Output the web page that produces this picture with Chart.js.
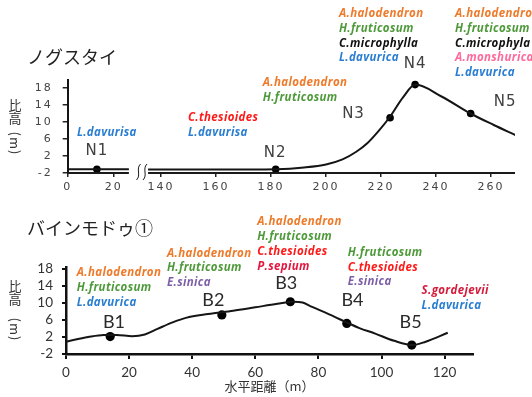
<!DOCTYPE html>
<html><head><meta charset="utf-8">
<script src="https://cdn.jsdelivr.net/npm/chart.js@4/dist/chart.umd.min.js"></script>
<style>
html,body{margin:0;padding:0;background:#fff;}
#wrap{position:relative;width:532px;height:397px;overflow:hidden;}
canvas{position:absolute;left:0;}
#top{top:0}
#bot{top:200px}
</style></head><body>
<div id="wrap"><canvas id="top" width="532" height="200"></canvas><canvas id="bot" width="532" height="197"></canvas></div>
<script>
// ---------------- data ----------------
const TOP_TITLE = 'ノグスタイ';
const BOT_TITLE = 'バインモドゥ①';
const Y_LABEL_CJK = ['比', '高'];
const Y_LABEL_UNIT = '(m)';
const X_LABEL = '水平距離（m）';
const Y_TICKS = [-2, 2, 6, 10, 14, 18];
const TOP_X_TICKS = [0, 20, 140, 160, 180, 200, 220, 240, 260];
const BOT_X_TICKS = [0, 20, 40, 60, 80, 100, 120];

const TOP_SITES = ['N1', 'N2', 'N3', 'N4', 'N5'];
const TOP_SITE_X = [12.7, 181.7, 223.3, 232.4, 252.6];
const TOP_SITE_Y = [-1.1, -1.1, 11.0, 18.8, 12.0];
const TOP_PROFILE_LEFT_X = [0, 26.6];
const TOP_PROFILE_LEFT_Y = [-1.1, -1.1];
const TOP_PROFILE_RIGHT_X = [135.3, 160, 182, 192, 200, 206, 211, 215, 219, 223, 228, 232.5, 242, 252.5, 261, 269];
const TOP_PROFILE_RIGHT_Y = [-1.2, -1.2, -1.1, -0.7, 0.0, 1.2, 3.0, 5.0, 7.8, 11.0, 15.8, 18.8, 16.0, 12.0, 9.3, 6.9];
const TOP_SPECIES = [
  ['L.davurisa'],
  ['C.thesioides', 'L.davurisa'],
  ['A.halodendron', 'H.fruticosum'],
  ['A.halodendron', 'H.fruticosum', 'C.microphylla', 'L.davurica'],
  ['A.halodendron', 'H.fruticosum', 'C.microphyla', 'A.monshurica', 'L.davurica']
];

const BOT_SITES = ['B1', 'B2', 'B3', 'B4', 'B5'];
const BOT_SITE_X = [14, 49.4, 71.1, 89, 109.6];
const BOT_SITE_Y = [2.1, 7.2, 10.3, 5.2, 0.1];
const BOT_PROFILE_X = [0, 7, 12, 16, 21, 25, 29, 34, 38, 45, 53, 60, 67, 72, 75, 78, 85, 89, 93, 98, 104, 110, 114, 121];
const BOT_PROFILE_Y = [0.9, 2.0, 2.5, 2.5, 2.2, 2.6, 3.9, 5.5, 6.5, 7.4, 8.2, 9.0, 9.8, 10.3, 10.1, 9.1, 6.8, 5.4, 4.1, 2.8, 1.1, 0.1, 0.9, 3.0];
const BOT_SPECIES = [
  ['A.halodendron', 'H.fruticosum', 'L.davurica'],
  ['A.halodendron', 'H.fruticosum', 'E.sinica'],
  ['A.halodendron', 'H.fruticosum', 'C.thesioides', 'P.sepium'],
  ['H.fruticosum', 'C.thesioides', 'E.sinica'],
  ['S.gordejevii', 'L.davurica']
];

// ---------------- styles / layout ----------------
const SPECIES_COLORS = {
  'A.halodendron': '#EE7A2A', 'H.fruticosum': '#4E9A3A', 'L.davurica': '#2A7ED2', 'L.davurisa': '#2A7ED2',
  'C.thesioides': '#FF1A1A', 'C.microphylla': '#111111', 'C.microphyla': '#111111',
  'A.monshurica': '#FF6A9A', 'E.sinica': '#7D5FA8', 'P.sepium': '#E3163E', 'S.gordejevii': '#D41B3A'
};
const LINE_GAP = 14.8;
// broken-axis mapping for the top panel (real x -> axis units)
const LEFT_K = 2.3 / 2.75, SHIFT = 106.07, U_MAX = 162.65;
const uOf = x => x < 100 ? x * LEFT_K : x - SHIFT;
const TOP_LAYOUT = {
  site: [[12.7, 3.2], [181.5, 2.7], [210.0, 11.9], [232.4, 23.6], [265.1, 14.7]],
  species: [[4.0, 7.4], [149.8, 11.0], [177.0, 19.2], [204.7, 35.5], [246.9, 35.5]]
};
const BOT_LAYOUT = {
  site: [[15.2, 5.5], [46.7, 10.7], [69.8, 14.6], [90.8, 10.7], [109.2, 5.4]],
  species: [[3.4, 17.1], [32.0, 21.7], [60.6, 29.1], [89.3, 21.9], [112.7, 12.9]]
};

function drawYLabel(ctx, cx, y1, y2, yUnit) {
  ctx.save();
  ctx.fillStyle = '#333';
  ctx.font = '13px "Noto Sans CJK JP"';
  ctx.textAlign = 'center'; ctx.textBaseline = 'middle';
  ctx.fillText(Y_LABEL_CJK[0], cx, y1);
  ctx.fillText(Y_LABEL_CJK[1], cx, y2);
  ctx.translate(cx, yUnit); ctx.rotate(Math.PI / 2);
  ctx.letterSpacing = '1px';
  ctx.fillText(Y_LABEL_UNIT, 0, 0);
  ctx.restore();
}

function makeAnnot(opts) {
  return {
    id: 'annot',
    beforeDraw(chart) { chart.ctx.letterSpacing = opts.tickSpacing || '0px'; },
    afterDraw(chart) {
      const ctx = chart.ctx, xs = chart.scales.x, ys = chart.scales.y, a = chart.chartArea;
      ctx.save();
      ctx.letterSpacing = '0px';
      // title
      ctx.fillStyle = '#222';
      ctx.font = '18px "Noto Sans CJK JP"';
      ctx.textAlign = 'left'; ctx.textBaseline = 'middle';
      ctx.fillText(opts.title, 27, opts.titleY);
      // y label
      drawYLabel(ctx, 15, opts.yl[0], opts.yl[1], opts.yl[2]);
      // broken axis
      if (opts.broken) {
        const yb = a.bottom;
        ctx.strokeStyle = '#1a1a1a'; ctx.lineWidth = 2;
        ctx.beginPath();
        ctx.moveTo(a.left, yb); ctx.lineTo(xs.getPixelForValue(uOf(26.6)), yb);
        ctx.moveTo(xs.getPixelForValue(uOf(135.3)), yb); ctx.lineTo(a.right, yb);
        ctx.stroke();
        ctx.lineWidth = 1;
        [138.5, 145].forEach(bx => {
          ctx.beginPath();
          ctx.moveTo(bx - 2, yb + 7);
          ctx.bezierCurveTo(bx + 3, yb + 2, bx - 3, yb - 4, bx + 2, yb - 9);
          ctx.stroke();
        });
      }
      // site labels
      ctx.fillStyle = opts.siteColor;
      ctx.font = opts.siteFont;
      ctx.textAlign = 'center';
      ctx.letterSpacing = opts.siteSpacing;
      opts.sites.forEach((s, i) => {
        const p = opts.layout.site[i];
        ctx.fillText(s, xs.getPixelForValue(opts.xmap(p[0])), ys.getPixelForValue(p[1]));
      });
      // species
      ctx.font = 'italic bold 11.5px "Open Sans"';
      ctx.letterSpacing = '0.35px';
      ctx.textAlign = 'left';
      opts.species.forEach((list, i) => {
        const p = opts.layout.species[i];
        const px = xs.getPixelForValue(opts.xmap(p[0])), py = ys.getPixelForValue(p[1]);
        list.forEach((sp, k) => {
          ctx.fillStyle = SPECIES_COLORS[sp] || '#000';
          ctx.fillText(sp, px, py + k * LINE_GAP);
        });
      });
      ctx.restore();
    }
  };
}

const lineDs = (xs, ys, map) => ({
  data: xs.map((x, i) => ({ x: map(x), y: ys[i] })),
  borderColor: '#151515', borderWidth: 2, pointRadius: 0,
  cubicInterpolationMode: 'monotone', fill: false
});
const pointDs = (xs, ys, map, r) => ({
  data: xs.map((x, i) => ({ x: map(x), y: ys[i] })),
  showLine: false, pointRadius: r, pointBackgroundColor: '#000', pointBorderWidth: 0, borderColor: '#000'
});

// ---------------- top chart ----------------
new Chart(document.getElementById('top'), {
  type: 'line',
  data: { datasets: [
    lineDs(TOP_PROFILE_LEFT_X, TOP_PROFILE_LEFT_Y, uOf),
    lineDs(TOP_PROFILE_RIGHT_X, TOP_PROFILE_RIGHT_Y, uOf),
    pointDs(TOP_SITE_X, TOP_SITE_Y, uOf, 3.8)
  ] },
  options: {
    responsive: false, animation: false, events: [],
    layout: { padding: { left: 27.7, right: 17, top: 79.5, bottom: 2 } },
    plugins: { legend: { display: false }, tooltip: { enabled: false } },
    scales: {
      x: {
        type: 'linear', min: 0, max: U_MAX,
        afterBuildTicks: s => { s.ticks = TOP_X_TICKS.map(v => ({ value: uOf(v) })); },
        afterFit: s => { s.height = 25; },
        ticks: { callback: (v, i) => TOP_X_TICKS[i], font: { family: 'DejaVu Sans', size: 11 }, color: '#444', maxRotation: 0, autoSkip: false, padding: 4 },
        grid: { display: true, drawOnChartArea: false, drawTicks: true, tickLength: 4, color: '#222', lineWidth: 1.5 },
        border: { display: false }
      },
      y: {
        type: 'linear', min: -2, max: 20,
        afterBuildTicks: s => { s.ticks = Y_TICKS.map(v => ({ value: v })); },
        afterFit: s => { s.width = 40; },
        ticks: { font: { family: 'DejaVu Sans', size: 11 }, color: '#444', padding: 10, autoSkip: false },
        grid: { display: true, drawOnChartArea: false, drawTicks: true, tickLength: 5, color: '#222', lineWidth: 1.5 },
        border: { display: true, color: '#151515', width: 2 }
      }
    }
  },
  plugins: [makeAnnot({
    title: TOP_TITLE, titleY: 57, yl: [105, 118, 143.5], broken: true,
    sites: TOP_SITES, species: TOP_SPECIES, layout: TOP_LAYOUT, xmap: uOf,
    siteColor: '#404040', siteFont: '15px "DejaVu Sans"', siteSpacing: '1px', tickSpacing: '2px'
  })]
});

// ---------------- bottom chart ----------------
const idX = x => x;
new Chart(document.getElementById('bot'), {
  type: 'line',
  data: { datasets: [
    lineDs(BOT_PROFILE_X, BOT_PROFILE_Y, idX),
    pointDs(BOT_SITE_X, BOT_SITE_Y, idX, 4.6)
  ] },
  options: {
    responsive: false, animation: false, events: [],
    layout: { padding: { left: 26, right: 59, top: 66.9, bottom: 3 } },
    plugins: { legend: { display: false }, tooltip: { enabled: false } },
    scales: {
      x: {
        type: 'linear', min: 0, max: 129,
        afterBuildTicks: s => { s.ticks = BOT_X_TICKS.map(v => ({ value: v })); },
        afterFit: s => { s.height = 40; },
        ticks: { font: { family: 'Lato', size: 13.5 }, color: '#333', maxRotation: 0, autoSkip: false, padding: 6 },
        grid: { display: true, drawOnChartArea: false, drawTicks: true, tickLength: 5, color: '#111', lineWidth: 2 },
        border: { display: true, color: '#111', width: 2.5 },
        title: { display: true, text: X_LABEL, font: { family: 'Noto Sans CJK JP', size: 13 }, color: '#333', padding: 0 }
      },
      y: {
        type: 'linear', min: -2, max: 18.5,
        afterBuildTicks: s => { s.ticks = Y_TICKS.map(v => ({ value: v })); },
        afterFit: s => { s.width = 40; },
        ticks: { font: { family: 'Lato', size: 13.5 }, color: '#333', padding: 9, autoSkip: false },
        grid: { display: true, drawOnChartArea: false, drawTicks: true, tickLength: 4, color: '#111', lineWidth: 2 },
        border: { display: true, color: '#111', width: 2.5 }
      }
    }
  },
  plugins: [makeAnnot({
    title: BOT_TITLE, titleY: 28, yl: [86, 99, 129.5], broken: false,
    sites: BOT_SITES, species: BOT_SPECIES, layout: BOT_LAYOUT, xmap: idX,
    siteColor: '#2a2a2a', siteFont: '18px Lato', siteSpacing: '0px', tickSpacing: '0px'
  })]
});
</script>
</body></html>
